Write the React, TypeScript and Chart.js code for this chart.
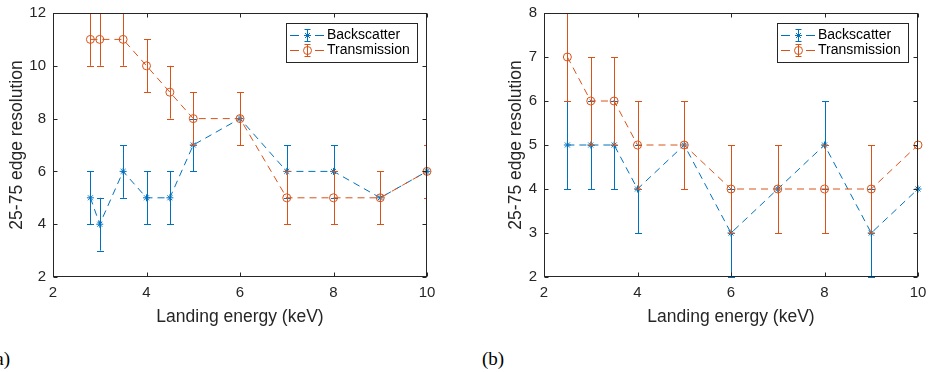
import React, { useEffect, useRef } from "react";
import { Chart, registerables } from "chart.js";
Chart.register(...registerables);

const SERIES_NAMES = ["Backscatter", "Transmission"];
const SERIES_COLORS = ["#0072BD", "#D95319"];
const X_TITLE = "Landing energy (keV)";
const Y_TITLE = "25-75 edge resolution";
const PANEL_LABELS = ["(a)", "(b)"];

// Panel (a)
const A_ENERGY = [2.8, 3, 3.5, 4, 4.5, 5, 6, 7, 8, 9, 10];
const A_BACKSCATTER = [5, 4, 6, 5, 5, 7, 8, 6, 6, 5, 6];
const A_BACKSCATTER_ERR = [1, 1, 1, 1, 1, 1, 1, 1, 1, 1, 1];
const A_TRANSMISSION = [11, 11, 11, 10, 9, 8, 8, 5, 5, 5, 6];
const A_TRANSMISSION_ERR = [1, 1, 1, 1, 1, 1, 1, 1, 1, 1, 1];
const A_Y_TICKS = [2, 4, 6, 8, 10, 12];

// Panel (b)
const B_ENERGY = [2.5, 3, 3.5, 4, 5, 6, 7, 8, 9, 10];
const B_BACKSCATTER = [5, 5, 5, 4, 5, 3, 4, 5, 3, 4];
const B_BACKSCATTER_ERR = [1, 1, 1, 1, 1, 1, 1, 1, 1, 1];
const B_TRANSMISSION = [7, 6, 6, 5, 5, 4, 4, 4, 4, 5];
const B_TRANSMISSION_ERR = [1, 1, 1, 1, 1, 1, 1, 1, 1, 1];
const B_Y_TICKS = [2, 3, 4, 5, 6, 7, 8];

const X_TICKS = [2, 4, 6, 8, 10];

const AXIS_COLOR = "#262626";
const SANS = "'Liberation Sans', Arial, Helvetica, sans-serif";

const CANVAS_W = 440;
const CANVAS_H = 340;

function pts(xs: number[], ys: number[]) {
  return xs.map((x, i) => ({ x, y: ys[i] }));
}

const matlabPlugin = {
  id: "matlabLook",
  beforeDatasetDraw(chart: any, args: any) {
    const ds = chart.data.datasets[args.index];
    const errs: number[] | undefined = ds.errors;
    if (!errs) return;
    const xs = chart.scales.x;
    const ys = chart.scales.y;
    const ctx = chart.ctx;
    const a = chart.chartArea;
    ctx.save();
    ctx.beginPath();
    ctx.rect(a.left, a.top - 1, a.right - a.left, a.bottom - a.top + 2);
    ctx.clip();
    ctx.strokeStyle = ds.borderColor;
    ctx.lineWidth = 1;
    ctx.setLineDash([]);
    ds.data.forEach((p: any, i: number) => {
      const px = Math.round(xs.getPixelForValue(p.x)) + 0.5;
      const yt = ys.getPixelForValue(p.y + errs[i]);
      const yb = ys.getPixelForValue(p.y - errs[i]);
      ctx.beginPath();
      ctx.moveTo(px, yt);
      ctx.lineTo(px, yb);
      ctx.moveTo(px - 3.5, Math.round(yt) + 0.5);
      ctx.lineTo(px + 3.5, Math.round(yt) + 0.5);
      ctx.moveTo(px - 3.5, Math.round(yb) + 0.5);
      ctx.lineTo(px + 3.5, Math.round(yb) + 0.5);
      ctx.stroke();
    });
    ctx.restore();
  },
  afterDraw(chart: any) {
    const ctx = chart.ctx;
    const a = chart.chartArea;
    const xs = chart.scales.x;
    const ys = chart.scales.y;
    const L = Math.round(a.left) + 0.5;
    const R = Math.round(a.right) - 0.5;
    const T = Math.round(a.top) + 0.5;
    const B = Math.round(a.bottom) - 0.5;
    ctx.save();
    ctx.setLineDash([]);
    ctx.strokeStyle = AXIS_COLOR;
    ctx.lineWidth = 1;
    ctx.strokeRect(L, T, R - L, B - T);
    const tl = 4;
    ctx.beginPath();
    xs.ticks.forEach((t: any) => {
      const px = Math.round(xs.getPixelForValue(t.value)) + 0.5;
      ctx.moveTo(px, B);
      ctx.lineTo(px, B - tl);
      ctx.moveTo(px, T);
      ctx.lineTo(px, T + tl);
    });
    ys.ticks.forEach((t: any) => {
      const py = Math.round(ys.getPixelForValue(t.value)) + 0.5;
      ctx.moveTo(L, py);
      ctx.lineTo(L + tl, py);
      ctx.moveTo(R, py);
      ctx.lineTo(R - tl, py);
    });
    ctx.stroke();

    // legend
    const datasets = chart.data.datasets.slice().sort((p: any, q: any) => p.legendIndex - q.legendIndex);
    ctx.font = `14px ${SANS}`;
    const textW = Math.max(...datasets.map((d: any) => ctx.measureText(d.label).width));
    const boxW = Math.round(4 + 34 + 3 + textW + 7);
    const boxH = 39;
    const bx = Math.round(a.right) - 10 - boxW;
    const by = Math.round(a.top) + 10;
    ctx.fillStyle = "#ffffff";
    ctx.fillRect(bx, by, boxW, boxH);
    ctx.strokeStyle = AXIS_COLOR;
    ctx.strokeRect(bx + 0.5, by + 0.5, boxW, boxH);
    datasets.forEach((d: any, i: number) => {
      const cy = by + 12 + i * 15 + 0.5;
      const x0 = bx + 4;
      const cx = x0 + 17.5;
      ctx.strokeStyle = d.borderColor;
      ctx.lineWidth = 1;
      ctx.beginPath();
      ctx.moveTo(x0, cy);
      ctx.lineTo(x0 + 9, cy);
      ctx.moveTo(x0 + 25, cy);
      ctx.lineTo(x0 + 34, cy);
      ctx.moveTo(cx, cy - 6);
      ctx.lineTo(cx, cy + 6);
      ctx.moveTo(cx - 3, cy - 6);
      ctx.lineTo(cx + 3, cy - 6);
      ctx.moveTo(cx - 3, cy + 6);
      ctx.lineTo(cx + 3, cy + 6);
      ctx.stroke();
      if (d.pointStyle === "circle") {
        ctx.beginPath();
        ctx.arc(cx, cy, d.pointRadius, 0, Math.PI * 2);
        ctx.stroke();
      } else {
        const r = d.pointRadius;
        ctx.beginPath();
        for (let k = 0; k < 4; k++) {
          const ang = (k * Math.PI) / 4;
          ctx.moveTo(cx - r * Math.cos(ang), cy - r * Math.sin(ang));
          ctx.lineTo(cx + r * Math.cos(ang), cy + r * Math.sin(ang));
        }
        ctx.stroke();
      }
      ctx.fillStyle = "#000000";
      ctx.textBaseline = "middle";
      ctx.textAlign = "left";
      ctx.fillText(d.label, x0 + 37, cy);
    });
    ctx.restore();
  },
};

type PanelCfg = {
  left: number;
  energy: number[];
  back: number[];
  backErr: number[];
  trans: number[];
  transErr: number[];
  yTicks: number[];
  yAxisWidth: number;
  yTitlePad: number;
  padRight: number;
};

function Panel({ cfg }: { cfg: PanelCfg }) {
  const ref = useRef<HTMLCanvasElement>(null);
  useEffect(() => {
    const yMin = Math.min(...cfg.yTicks);
    const yMax = Math.max(...cfg.yTicks);
    const chart = new Chart(ref.current as HTMLCanvasElement, {
      type: "scatter",
      data: {
        datasets: [
          {
            label: SERIES_NAMES[0],
            data: pts(cfg.energy, cfg.back),
            errors: cfg.backErr,
            legendIndex: 0,
            order: 1,
            showLine: true,
            borderColor: SERIES_COLORS[0],
            backgroundColor: SERIES_COLORS[0],
            borderWidth: 1,
            borderDash: [7, 5],
            pointStyle: "star",
            pointRadius: 3.5,
            pointBorderWidth: 1,
            pointBorderColor: SERIES_COLORS[0],
            clip: false,
          } as any,
          {
            label: SERIES_NAMES[1],
            data: pts(cfg.energy, cfg.trans),
            errors: cfg.transErr,
            legendIndex: 1,
            order: 0,
            showLine: true,
            borderColor: SERIES_COLORS[1],
            backgroundColor: "rgba(0,0,0,0)",
            borderWidth: 1,
            borderDash: [7, 5],
            pointStyle: "circle",
            pointRadius: 4,
            pointBorderWidth: 1,
            pointBorderColor: SERIES_COLORS[1],
            pointBackgroundColor: "rgba(0,0,0,0)",
            clip: false,
          } as any,
        ],
      },
      options: {
        animation: false,
        responsive: false,
        events: [],
        layout: { padding: { left: 0, right: cfg.padRight, top: 13, bottom: 0 } },
        plugins: { legend: { display: false }, tooltip: { enabled: false } },
        scales: {
          x: {
            type: "linear",
            min: X_TICKS[0],
            max: X_TICKS[X_TICKS.length - 1],
            afterBuildTicks: (s: any) => {
              s.ticks = X_TICKS.map((v) => ({ value: v }));
            },
            afterFit: (s: any) => {
              s.height = 63;
              s.paddingLeft = 0;
              s.paddingRight = 0;
            },
            grid: { display: false, drawTicks: false },
            border: { display: false },
            ticks: {
              padding: 7,
              color: AXIS_COLOR,
              font: { size: 15, family: SANS },
              maxRotation: 0,
            },
            title: {
              display: true,
              text: X_TITLE,
              color: AXIS_COLOR,
              font: { size: 17.5, family: SANS },
              padding: { top: 0, bottom: 12.5 },
            },
          },
          y: {
            type: "linear",
            min: yMin,
            max: yMax,
            afterBuildTicks: (s: any) => {
              s.ticks = cfg.yTicks.map((v) => ({ value: v }));
            },
            afterFit: (s: any) => {
              s.width = cfg.yAxisWidth;
              s.paddingTop = 0;
              s.paddingBottom = 0;
            },
            grid: { display: false, drawTicks: false },
            border: { display: false },
            ticks: {
              padding: 7,
              color: AXIS_COLOR,
              font: { size: 15, family: SANS },
            },
            title: {
              display: true,
              text: Y_TITLE,
              color: AXIS_COLOR,
              font: { size: 17.5, family: SANS },
              padding: { top: cfg.yTitlePad, bottom: 0 },
            },
          },
        },
      } as any,
      plugins: [matlabPlugin],
    });
    return () => chart.destroy();
  }, [cfg]);
  return (
    <canvas
      ref={ref}
      width={CANVAS_W}
      height={CANVAS_H}
      style={{ position: "absolute", left: cfg.left, top: 0, width: CANVAS_W, height: CANVAS_H }}
    />
  );
}

const PANEL_A: PanelCfg = {
  left: 0,
  energy: A_ENERGY,
  back: A_BACKSCATTER,
  backErr: A_BACKSCATTER_ERR,
  trans: A_TRANSMISSION,
  transErr: A_TRANSMISSION_ERR,
  yTicks: A_Y_TICKS,
  yAxisWidth: 53,
  yTitlePad: 7,
  padRight: 13,
};

const PANEL_B: PanelCfg = {
  left: 490,
  energy: B_ENERGY,
  back: B_BACKSCATTER,
  backErr: B_BACKSCATTER_ERR,
  trans: B_TRANSMISSION,
  transErr: B_TRANSMISSION_ERR,
  yTicks: B_Y_TICKS,
  yAxisWidth: 54,
  yTitlePad: 16,
  padRight: 12,
};

export default function App() {
  const labelStyle: React.CSSProperties = {
    position: "absolute",
    top: 348,
    fontFamily: "'Liberation Serif', 'Times New Roman', serif",
    fontSize: 19,
    lineHeight: "22px",
    color: "#000",
    whiteSpace: "nowrap",
  };
  return (
    <div
      style={{
        position: "fixed",
        left: 0,
        top: 0,
        width: 930,
        height: 372,
        background: "#fff",
        overflow: "hidden",
      }}
    >
      <Panel cfg={PANEL_A} />
      <Panel cfg={PANEL_B} />
      <div style={{ ...labelStyle, left: -11 }}>{PANEL_LABELS[0]}</div>
      <div style={{ ...labelStyle, left: 482 }}>{PANEL_LABELS[1]}</div>
    </div>
  );
}
